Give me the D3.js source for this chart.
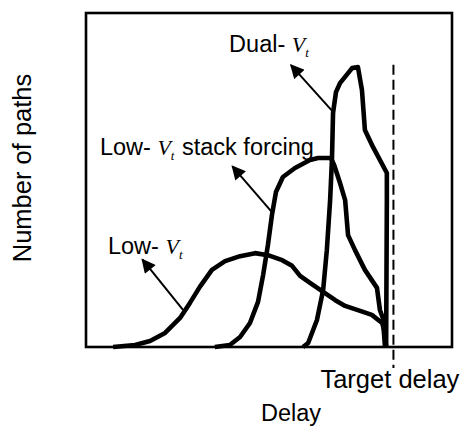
<!DOCTYPE html>
<html>
<head>
<meta charset="utf-8">
<script src="https://cdn.jsdelivr.net/npm/d3@7"></script>
<style>
  html, body { margin: 0; padding: 0; background: #fff; }
  svg { display: block; }
  .lbl { font-family: "Liberation Sans", Arial, Helvetica, sans-serif; fill: #000; }
  .vt { font-family: "Liberation Serif", "Times New Roman", serif; font-style: italic; }
</style>
</head>
<body>
<svg id="chart" width="464" height="428"></svg>
<script>
// Delay distributions (arbitrary units): [delay, number of paths]
const lowVt = [
  [7.4, 0], [13.4, 0.6], [17.5, 1.8], [21.6, 4.2], [25.7, 8.7], [28.4, 13.2],
  [31.1, 18.0], [34.4, 23.1], [38.0, 25.7], [42.1, 27.2], [46.2, 28.1], [49.7, 27.5],
  [53.6, 26.0], [56.3, 24.3], [58.5, 21.3], [61.2, 19.2], [64.8, 16.5], [68.0, 14.1],
  [70.8, 12.3], [74.9, 10.8], [78.1, 9.6], [80.9, 7.2], [81.7, 4.2], [82.0, 0]
];
const stackForcing = [
  [35.2, 0], [39.3, 0.6], [42.1, 3.0], [44.8, 7.2], [47.0, 13.5], [48.4, 21.6],
  [49.7, 30.5], [50.8, 39.5], [51.9, 46.4], [53.8, 50.9], [57.1, 53.6], [61.2, 56.0],
  [63.4, 56.6], [66.9, 56.6], [67.8, 54.5], [69.4, 49.1], [70.8, 44.0], [71.6, 33.5],
  [73.5, 29.0], [76.2, 23.1], [79.5, 17.7], [80.3, 11.1], [81.1, 8.7], [81.7, 0]
];
const dualVt = [
  [59.3, 0], [60.7, 1.2], [63.1, 8.1], [64.8, 17.1], [65.8, 29.0], [66.7, 44.0],
  [67.2, 56.0], [67.5, 70.1], [68.3, 76.3], [69.4, 79.0], [72.7, 83.5], [74.3, 83.8],
  [75.4, 76.9], [76.2, 65.0], [78.4, 59.9], [82.2, 52.1], [82.2, 44.0], [82.0, 0]
];
const targetDelay = 84;

// Curve labels: text before the V_t symbol, text after it, anchor point
const labels = [
  { pre: "Dual- ", post: "", at: [39.1, 88.3] },
  { pre: "Low- ", post: " stack forcing", at: [3.8, 57.5] },
  { pre: "Low- ", post: "", at: [6.0, 27.8] }
];
// Pointer arrows: [from, to]
const arrows = [
  [[67.5, 70.4], [56.0, 84.4]],
  [[50.8, 40.4], [40.0, 54.1]],
  [[26.5, 11.1], [15.4, 26.2]]
];
const xTitle = "Delay";
const yTitle = "Number of paths";
const targetLabel = "Target delay";

const svg = d3.select("#chart");
const plot = { left: 86, top: 13, right: 452, bottom: 347 };

const x = d3.scaleLinear().domain([0, 100]).range([plot.left, plot.right]);
const y = d3.scaleLinear().domain([0, 100]).range([plot.bottom, plot.top]);

// Frame
svg.append("rect")
  .attr("x", plot.left).attr("y", plot.top)
  .attr("width", plot.right - plot.left).attr("height", plot.bottom - plot.top)
  .attr("fill", "none").attr("stroke", "#000").attr("stroke-width", 2.6);

// Arrowhead marker
svg.append("defs").append("marker")
  .attr("id", "head")
  .attr("viewBox", "0 0 10 10")
  .attr("refX", 9).attr("refY", 5)
  .attr("markerUnits", "userSpaceOnUse")
  .attr("markerWidth", 15).attr("markerHeight", 14)
  .attr("orient", "auto")
  .append("path").attr("d", "M0,0 L10,5 L0,10 Z").attr("fill", "#000");

// Target delay marker
svg.append("line")
  .attr("x1", x(targetDelay)).attr("x2", x(targetDelay))
  .attr("y1", y(84.5)).attr("y2", 368)
  .attr("stroke", "#000").attr("stroke-width", 2)
  .attr("stroke-dasharray", "10,5");

const line = d3.line().x(d => x(d[0])).y(d => y(d[1]));

svg.selectAll("path.curve")
  .data([lowVt, stackForcing, dualVt])
  .join("path")
  .attr("class", "curve")
  .attr("d", line)
  .attr("fill", "none")
  .attr("stroke", "#000")
  .attr("stroke-width", 4.6)
  .attr("stroke-linejoin", "round")
  .attr("stroke-linecap", "butt");

svg.selectAll("line.arrow")
  .data(arrows)
  .join("line")
  .attr("class", "arrow")
  .attr("x1", d => x(d[0][0])).attr("y1", d => y(d[0][1]))
  .attr("x2", d => x(d[1][0])).attr("y2", d => y(d[1][1]))
  .attr("stroke", "#000").attr("stroke-width", 2)
  .attr("marker-end", "url(#head)");

// Curve labels with italic V_t
labels.forEach(l => {
  const t = svg.append("text").attr("class", "lbl")
    .attr("x", x(l.at[0])).attr("y", y(l.at[1]))
    .attr("font-size", 23.5);
  t.append("tspan").text(l.pre);
  t.append("tspan").attr("class", "vt").attr("font-size", 22).text("V");
  t.append("tspan").attr("class", "vt").attr("font-size", 13).attr("dy", 5).text("t");
  if (l.post) t.append("tspan").attr("dy", -5).attr("dx", 1).text(l.post);
});

svg.append("text").attr("class", "lbl")
  .attr("x", x(targetDelay) - 73).attr("y", 388)
  .attr("font-size", 25.5).text(targetLabel);

svg.append("text").attr("class", "lbl")
  .attr("x", (plot.left + plot.right) / 2 + 22).attr("y", 421)
  .attr("text-anchor", "middle")
  .attr("font-size", 23.5).text(xTitle);

svg.append("text").attr("class", "lbl")
  .attr("transform", "translate(31,168) rotate(-90)")
  .attr("text-anchor", "middle")
  .attr("font-size", 25.5).text(yTitle);
</script>
</body>
</html>
